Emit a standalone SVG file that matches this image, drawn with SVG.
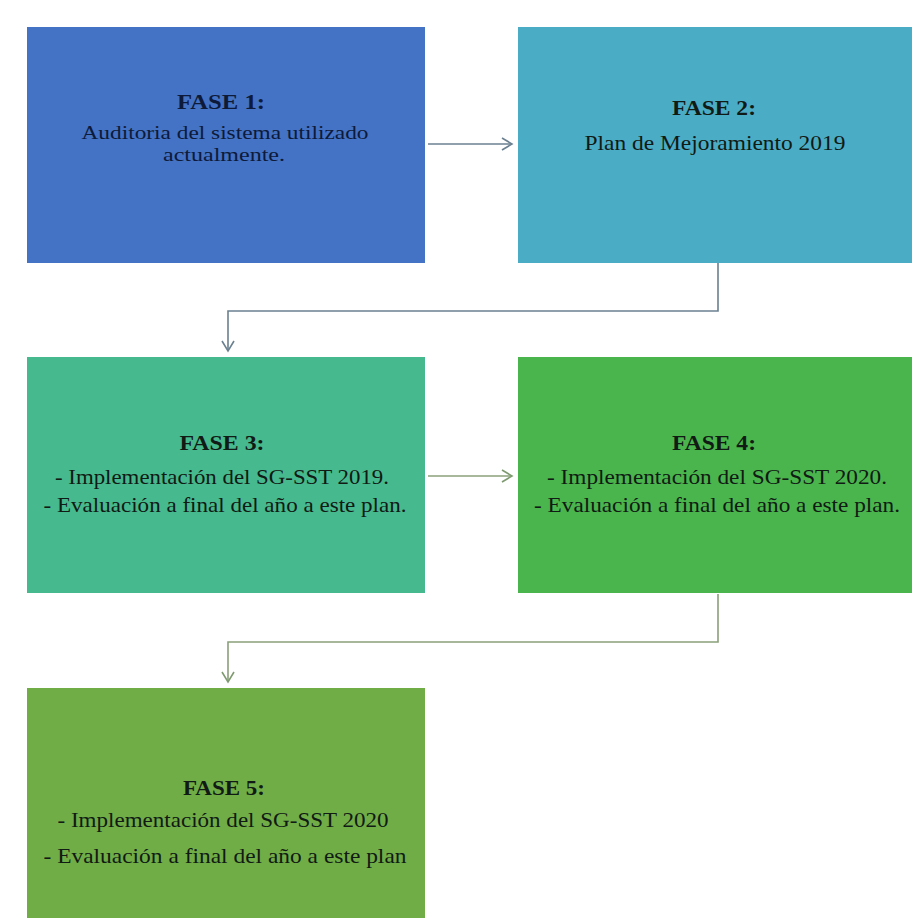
<svg xmlns="http://www.w3.org/2000/svg" width="912" height="918" viewBox="0 0 912 918">
<defs>
<marker id="arr" markerWidth="14" markerHeight="14" refX="12" refY="7" orient="auto" markerUnits="userSpaceOnUse">
<path d="M2,1 L12,7 L2,13" fill="none" stroke="#6b8090" stroke-width="1.6"/>
</marker>
<marker id="arrg" markerWidth="14" markerHeight="14" refX="12" refY="7" orient="auto" markerUnits="userSpaceOnUse">
<path d="M2,1 L12,7 L2,13" fill="none" stroke="#7f9a70" stroke-width="1.6"/>
</marker>
</defs>
<style>
.t{font-family:"Liberation Serif","Times New Roman",serif;font-size:21px;fill:#111a14;text-anchor:middle}
.s{font-size:19px}
.b{font-weight:bold}
.c{fill:none;stroke:#6b8090;stroke-width:1.6}
.cg{fill:none;stroke:#8aa07a;stroke-width:1.6}
</style>
<rect width="912" height="918" fill="#ffffff"/>
<g id="connectors">
<line class="c" x1="428" y1="144" x2="512" y2="144" marker-end="url(#arr)"/>
<polyline class="c" points="718,263 718,311 228,311 228,351" marker-end="url(#arr)"/>
<line class="cg" x1="428" y1="476" x2="512" y2="476" marker-end="url(#arrg)"/>
<polyline class="cg" points="718,594 718,642 228,642 228,682" marker-end="url(#arrg)"/>
</g>
<g id="fase1">
<rect x="27" y="27" width="398" height="236" fill="#4472c4"/>
<text class="t b" x="221" y="109" textLength="88" lengthAdjust="spacingAndGlyphs" style="fill:#0d1a3a">FASE 1:</text>
<text class="t s" x="225" y="139" textLength="287" lengthAdjust="spacingAndGlyphs" style="fill:#0d1a3a">Auditoria del sistema utilizado</text>
<text class="t s" x="224" y="161" textLength="122" lengthAdjust="spacingAndGlyphs" style="fill:#0d1a3a">actualmente.</text>
</g>
<g id="fase2">
<rect x="518" y="27" width="394" height="236" fill="#4bacc6"/>
<text class="t b" x="714" y="115" textLength="84" lengthAdjust="spacingAndGlyphs">FASE 2:</text>
<text class="t" x="715" y="150" textLength="261" lengthAdjust="spacingAndGlyphs">Plan de Mejoramiento 2019</text>
</g>
<g id="fase3">
<rect x="27" y="357" width="398" height="236" fill="#46b98e"/>
<text class="t b" x="222" y="450" textLength="85" lengthAdjust="spacingAndGlyphs">FASE 3:</text>
<text class="t" x="222" y="484" textLength="334" lengthAdjust="spacingAndGlyphs">- Implementación del SG-SST 2019.</text>
<text class="t" x="225" y="512" textLength="363" lengthAdjust="spacingAndGlyphs">- Evaluación a final del año a este plan.</text>
</g>
<g id="fase4">
<rect x="518" y="357" width="394" height="236" fill="#4ab54d"/>
<text class="t b" x="714" y="450" textLength="84" lengthAdjust="spacingAndGlyphs">FASE 4:</text>
<text class="t" x="717" y="484" textLength="340" lengthAdjust="spacingAndGlyphs">- Implementación del SG-SST 2020.</text>
<text class="t" x="717" y="512" textLength="366" lengthAdjust="spacingAndGlyphs">- Evaluación a final del año a este plan.</text>
</g>
<g id="fase5">
<rect x="27" y="688" width="398" height="230" fill="#70ad47"/>
<text class="t b" x="224" y="795" textLength="82" lengthAdjust="spacingAndGlyphs">FASE 5:</text>
<text class="t" x="223" y="827" textLength="331" lengthAdjust="spacingAndGlyphs">- Implementación del SG-SST 2020</text>
<text class="t" x="225" y="863" textLength="363" lengthAdjust="spacingAndGlyphs">- Evaluación a final del año a este plan</text>
</g>
</svg>
